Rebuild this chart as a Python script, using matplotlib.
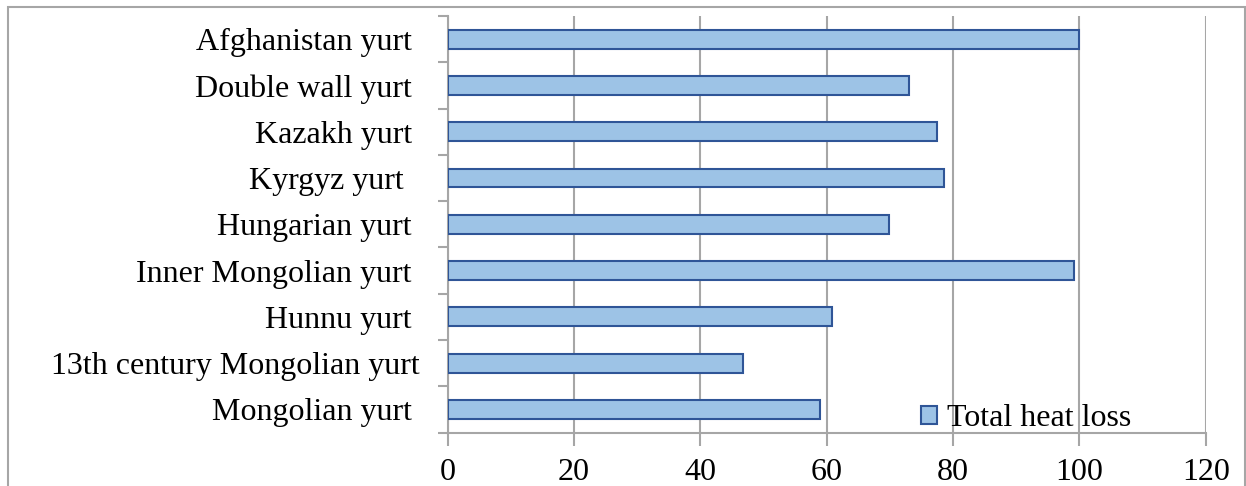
import matplotlib
matplotlib.use("Agg")
import matplotlib.pyplot as plt
from matplotlib.patches import Rectangle
import numpy as np

# yurt types, listed bottom to top as they appear on the axis
yurts = [
    "Mongolian yurt ",
    "13th century Mongolian yurt",
    "Hunnu yurt ",
    "Inner Mongolian yurt ",
    "Hungarian yurt ",
    "Kyrgyz yurt  ",
    "Kazakh yurt ",
    "Double wall yurt ",
    "Afghanistan yurt ",
]
heat_loss = [59.0, 46.7, 60.9, 99.2, 69.8, 78.6, 77.5, 73.0, 100.0]
series_name = "Total heat loss"
x_ticks = [0, 20, 40, 60, 80, 100, 120]

plt.rcParams["font.family"] = ["Liberation Serif", "DejaVu Serif"]

fig = plt.figure(figsize=(12.46, 4.86), dpi=100)
ax = fig.add_axes([0.3592, 0.110, 0.6085, 0.857])

grey = "#a6a6a6"
y = np.arange(len(yurts))
ax.barh(y, heat_loss, height=0.41, color="#9dc3e6", edgecolor="#2f5597",
        linewidth=1.5, label=series_name, zorder=3)

ax.set_xlim(0, 120)
ax.set_ylim(-0.5, len(yurts) - 0.5)
ax.set_xticks(x_ticks)
ax.set_xticklabels([str(t) for t in x_ticks])
ax.set_yticks(y)
ax.set_yticklabels(yurts)
ax.set_yticks(np.arange(-0.5, len(yurts)), minor=True)

ax.tick_params(axis="y", which="major", length=0, pad=20, labelsize=23)
ax.tick_params(axis="y", which="minor", length=7, width=1.5, color=grey)
ax.tick_params(axis="x", which="major", length=9, width=1.5, color=grey,
               pad=9.5, labelsize=23)

ax.grid(axis="x", color=grey, linewidth=1.5, zorder=0)
for side in ["top", "right"]:
    ax.spines[side].set_visible(False)
for side in ["left", "bottom"]:
    ax.spines[side].set_color(grey)
    ax.spines[side].set_linewidth(1.5)

ax.legend(loc="lower left", bbox_to_anchor=(0.608, -0.032), frameon=False,
          fontsize=23, handlelength=0.5, handleheight=0.5,
          handletextpad=0.3, borderaxespad=0)

# outer chart frame
fig.patches.append(Rectangle((8 / 1246, -0.1), 1237 / 1246, 1.1 - 7 / 486,
                             transform=fig.transFigure, fill=False,
                             edgecolor=grey, linewidth=1.5))

fig.savefig("out.png", dpi=100, facecolor="white")
